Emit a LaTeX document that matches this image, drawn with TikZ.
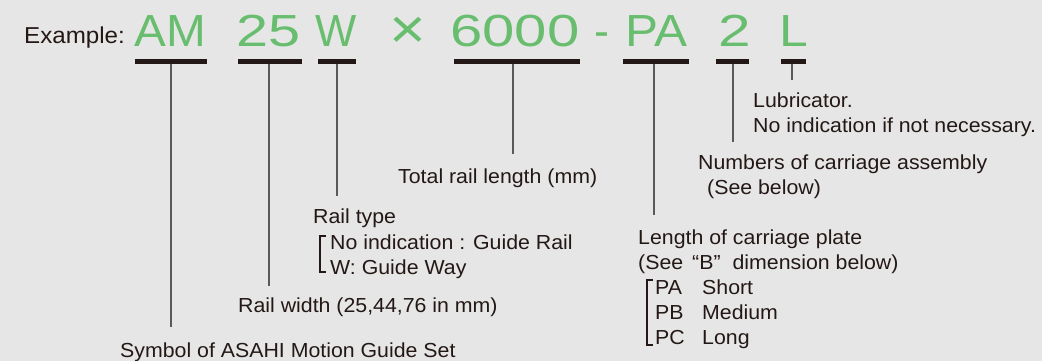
\documentclass[tikz,border=0pt]{standalone}
\usepackage{fontspec}
\setmainfont[FakeStretch=1.05]{Liberation Sans}
\newfontfamily\greenfont{Liberation Sans}
\definecolor{bg}{HTML}{E6E6E6}
\definecolor{ink}{HTML}{231815}
\definecolor{lg}{HTML}{5A5A5A}
\definecolor{grn}{HTML}{68BE6E}
\begin{document}
\begin{tikzpicture}[x=1pt,y=-1pt,
  lbl/.style={anchor=base west, inner sep=0pt, text=ink, font=\fontsize{20.3}{20.3}\selectfont},
  code/.style={anchor=base, inner sep=0pt, text=grn, font=\greenfont\fontsize{45}{45}\selectfont},
  bar/.style={fill=ink, inner sep=0pt, minimum height=4.6pt, draw=none},
  lead/.style={draw=lg, line width=1.1pt},
  brk/.style={draw=ink, line width=2pt}]
\fill[bg] (0,0) rectangle (1042,361);
\useasboundingbox (0,0) rectangle (1042,361);

% heading
\node[lbl, font=\fontsize{23}{23}\selectfont] (ex) at (24,44) {Example:};

% code tokens
\node[code] (tAM) at (170.5,47) {\scalebox{1.06}[1]{AM}};
\node[code] (t25) at (268.5,47) {\scalebox{1.28}[1]{25}};
\node[code] (tW) at (336.5,47) {\scalebox{0.97}[1]{W}};
\node[code, anchor=center] (tx) at (407.5,32.5) {\scalebox{1.4}[1.25]{×}};
\node[code] (t6000) at (515,47) {\scalebox{1.29}[1]{6000}};
\node[code] (tdash) at (602,47) {-};
\node[code] (tPA) at (656.5,47) {\scalebox{1.1}[1]{PA}};
\node[code] (t2) at (734.5,47) {\scalebox{1.3}[1]{2}};
\node[code] (tL) at (793.5,47) {\scalebox{1.15}[1]{L}};

% bars
\node[bar, minimum width=72pt] (bAM) at (171,61.3) {};
\node[bar, minimum width=64pt] (b25) at (270,61.3) {};
\node[bar, minimum width=38pt] (bW) at (337,61.3) {};
\node[bar, minimum width=126pt] (b6000) at (517,61.3) {};
\node[bar, minimum width=66pt] (bPA) at (656,61.3) {};
\node[bar, minimum width=33pt] (b2) at (732.5,61.3) {};
\node[bar, minimum width=25pt] (bL) at (793.5,61.3) {};

% leader ends
\coordinate (eAM) at (171,327);
\coordinate (e25) at (269,286);
\coordinate (eW) at (337,196);
\coordinate (e6000) at (513,154);
\coordinate (ePA) at (654,215);
\coordinate (e2) at (733,142);
\coordinate (eL) at (792,80);

\foreach \n in {AM,25,W,6000,PA,2,L}
  \draw[lead] (e\n |- b\n.south) -- (e\n);

% labels
\node[lbl] (lub) at (753,107) {Lubricator.};
\node[lbl] (lub2) at (753,132) {No indication if not necessary.};
\node[lbl] (num) at (698,169) {Numbers of carriage assembly};
\node[lbl] (num2) at (707,194) {(See below)};
\node[lbl] (total) at (398,183) {Total rail length (mm)};
\node[lbl] (rt) at (313,223) {Rail type};
\node[lbl] (rt1) at (330,249) {No indication : Guide Rail};
\node[lbl] (rt2) at (330,274) {W: Guide Way};
\node[lbl] (len) at (638,244) {Length of carriage plate};
\node[lbl] (len2) at (638,269) {(See\hspace{9pt}“B”\hspace{12pt}dimension below)};
\node[lbl] (pa) at (655,294) {PA};
\node[lbl] (pas) at (702,294) {Short};
\node[lbl] (pb) at (655,319) {PB};
\node[lbl] (pbs) at (702,319) {Medium};
\node[lbl] (pc) at (655,344) {PC};
\node[lbl] (pcs) at (702,344) {Long};
\node[lbl] (rw) at (238,312) {Rail width (25,44,76 in mm)};
\node[lbl] (sym) at (120,357) {Symbol of ASAHI Motion Guide Set};

% brackets
\draw[brk] (326,236) -- (320,236) -- (320,272) -- (326,272);
\draw[brk] (653,280) -- (647,280) -- (647,345) -- (653,345);
\end{tikzpicture}
\end{document}
